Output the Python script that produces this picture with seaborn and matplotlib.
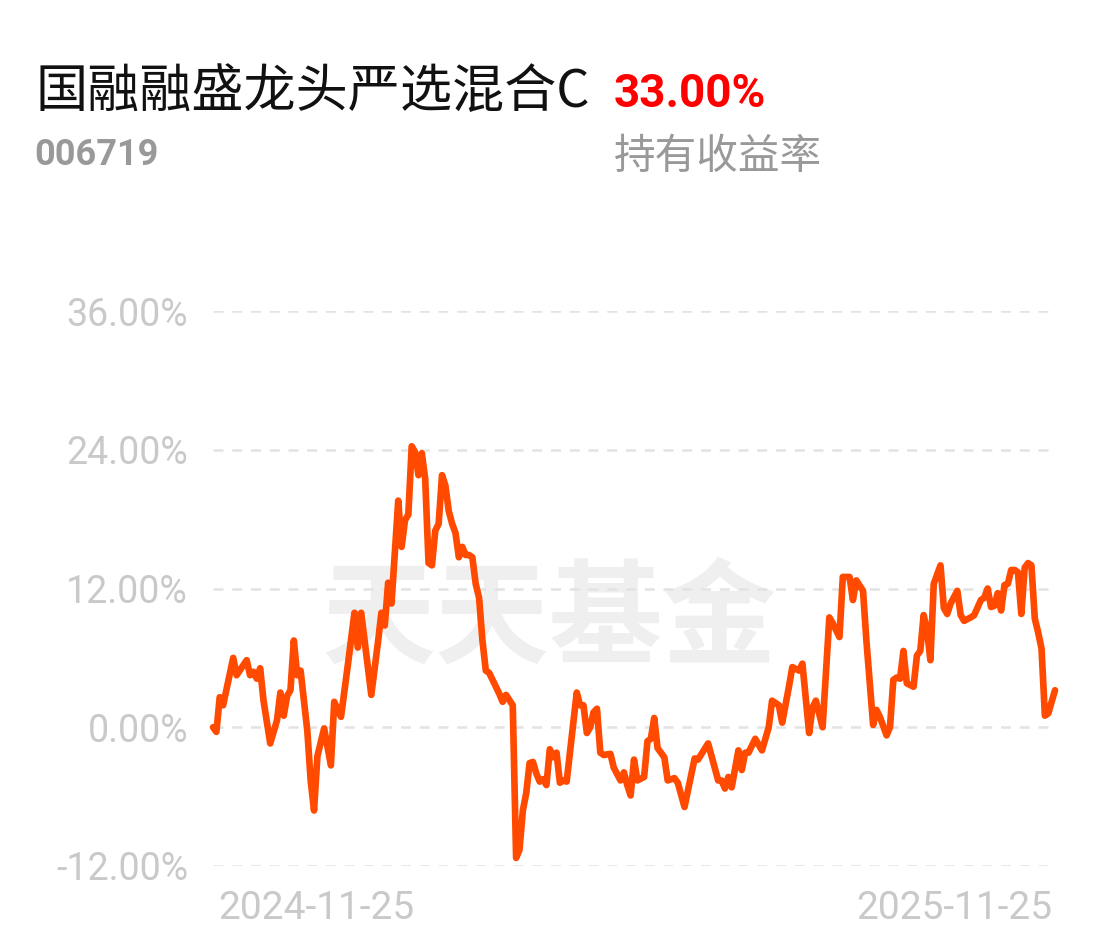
import matplotlib
matplotlib.use("Agg")
import matplotlib.pyplot as plt
import seaborn as sns
import pandas as pd

# ---- data ----
title = "国融融盛龙头严选混合C"
code = "006719"
headline_value = "33.00%"
headline_label = "持有收益率"
watermark = "天天基金"
x_labels = ["2024-11-25", "2025-11-25"]
y_ticks = [-12, 0, 12, 24, 36]

day = [0, 1, 2, 3, 6, 7, 10, 11, 12, 13, 14, 15, 17, 19, 20, 21, 22, 23, 24, 25,
       26, 28, 29, 30, 31, 33, 35, 36, 38, 40, 42, 43, 44, 47, 49, 50, 51, 52, 53, 55,
       56, 57, 58, 59, 60, 61, 62, 63, 64, 65, 66, 67, 68, 69, 70, 71, 72, 73, 74, 75,
       76, 77, 78, 79, 80, 81, 82, 84, 85, 86, 87, 89, 90, 91, 92, 93, 94, 95, 96, 97,
       98, 99, 100, 101, 102, 103, 104, 105, 108, 109, 110, 111, 112, 113, 114, 115, 116, 118, 119, 121,
       122, 123, 124, 125, 126, 128, 129, 130, 131, 132, 134, 135, 137, 138, 140, 143, 144, 147, 150, 151,
       152, 153, 154, 156, 157, 158, 159, 161, 163, 165, 166, 168, 169, 171, 172, 174, 175, 177, 178, 179,
       181, 183, 184, 186, 187, 189, 190, 191, 193, 194, 196, 197, 198, 200, 201, 202, 203, 204, 205, 206,
       208, 209, 210, 211, 212, 213, 214, 216, 217, 218, 219, 221, 222, 223, 225, 226, 228, 229, 230, 231,
       232, 233, 234, 235, 236, 237, 238, 239, 240, 241, 242, 243, 244, 245, 246, 247, 248, 250]
ret = [0.0, -0.4, 2.6, 1.9, 6.0, 4.5, 5.8, 4.5, 4.8, 4.2, 5.1, 2.3, -1.4, 0.6, 3.0, 1.0, 2.7, 3.2, 7.5, 4.5,
       4.9, -0.3, -4.6, -7.2, -2.5, -0.1, -3.3, 2.2, 0.9, 5.3, 9.9, 6.9, 9.9, 2.8, 7.4, 9.9, 8.8, 12.5, 10.7, 19.6,
       15.6, 17.9, 18.4, 24.3, 23.8, 21.8, 23.7, 21.5, 14.2, 14.0, 17.0, 17.6, 21.8, 20.9, 18.7, 17.6, 16.8, 14.7, 15.6, 14.9,
       14.9, 14.7, 12.4, 11.2, 7.5, 4.9, 4.7, 3.5, 2.9, 2.2, 2.8, 1.9, -11.3, -10.6, -7.2, -5.7, -3.1, -3.0, -4.0, -4.7,
       -4.5, -5.0, -1.9, -2.6, -2.2, -4.8, -4.6, -4.7, 3.0, 1.9, 1.9, -0.5, 0.0, 1.3, 1.6, -2.2, -2.4, -2.3, -3.5, -4.6,
       -3.9, -5.0, -5.9, -2.8, -4.6, -4.3, -1.2, -1.0, 0.8, -1.8, -2.6, -4.6, -4.4, -4.8, -6.9, -2.7, -2.8, -1.4, -4.6, -4.6,
       -5.3, -4.3, -5.2, -2.0, -3.7, -2.2, -2.2, -1.0, -2.0, 0.0, 2.3, 1.9, 0.4, 3.5, 5.2, 4.9, 5.5, -0.5, 1.7, 2.3,
       0.0, 9.5, 9.0, 7.8, 13.0, 13.0, 11.0, 12.7, 11.8, 7.5, 0.2, 1.5, 0.9, -0.7, 0.0, 4.1, 4.3, 4.2, 6.6, 3.8,
       3.5, 6.2, 6.6, 9.7, 8.4, 5.8, 12.4, 14.0, 10.3, 9.8, 10.7, 11.8, 9.7, 9.2, 9.5, 9.7, 11.0, 11.2, 12.0, 10.4,
       10.5, 11.6, 10.1, 12.3, 12.4, 13.6, 13.6, 13.4, 9.8, 13.8, 14.2, 14.0, 9.4, 8.2, 6.8, 1.0, 1.2, 3.2]

df = pd.DataFrame({"day": day, "ret": ret})

# ---- figure ----
sns.set_theme(style="white")
plt.rcParams["font.family"] = ["Noto Sans CJK SC", "DejaVu Sans"]

W, H = 1102, 951
fig = plt.figure(figsize=(W / 100, H / 100), dpi=100, facecolor="white")
ax = fig.add_axes([213 / W, 85 / H, 842 / W, 555 / H])
ax.set_facecolor("white")

# watermark
ax.text(0.40, 0.44, watermark, transform=ax.transAxes, ha="center", va="center",
        fontsize=82, fontweight="bold", color="#efefef", zorder=0)

sns.lineplot(data=df, x="day", y="ret", ax=ax, color="#FF4A00", linewidth=4.8,
             zorder=3, clip_on=False)
for ln in ax.lines:
    ln.set_solid_joinstyle("round")
    ln.set_solid_capstyle("round")

ax.set_xlim(0, 250)
ax.set_ylim(-12, 36)
ax.set_yticks(y_ticks)
ax.set_yticklabels([f"{v:.2f}%" for v in y_ticks], fontfamily="Roboto",
                   fontsize=27, color="#c9c9c9")
for v in y_ticks:
    ax.axhline(v, xmin=0, xmax=0.995, color="#e3e3e3", linewidth=1.8,
               linestyle=(0, (4, 3.5)), zorder=1)

ax.set_xticks([1.5, 249.2])
ax.set_xticklabels(x_labels, fontfamily="Roboto", fontsize=28, color="#c9c9c9")
xl = ax.get_xticklabels()
xl[0].set_ha("left")
xl[1].set_ha("right")
ax.tick_params(axis="y", length=0, pad=18)
ax.tick_params(axis="x", length=0, pad=17)
ax.set_xlabel("")
ax.set_ylabel("")
for s in ax.spines.values():
    s.set_visible(False)
ax.grid(False)

# header texts
fig.text(35 / W, 1 - 92 / H, title, fontsize=37.5, color="#111111",
         ha="left", va="center", family=["Noto Sans CJK SC", "DejaVu Sans"])
fig.text(614 / W, 1 - 94 / H, headline_value, fontsize=33, color="#FF0000",
         fontweight="bold", ha="left", va="center", family=["Roboto", "DejaVu Sans"])
fig.text(34 / W, 1 - 155 / H, code, fontsize=26, color="#999999",
         fontweight="bold", ha="left", va="center", family=["Roboto", "DejaVu Sans"])
fig.text(614 / W, 1 - 158 / H, headline_label, fontsize=30, color="#999999",
         ha="left", va="center", family=["Noto Sans CJK SC", "DejaVu Sans"])

fig.savefig("out.png", dpi=100, facecolor="white")
